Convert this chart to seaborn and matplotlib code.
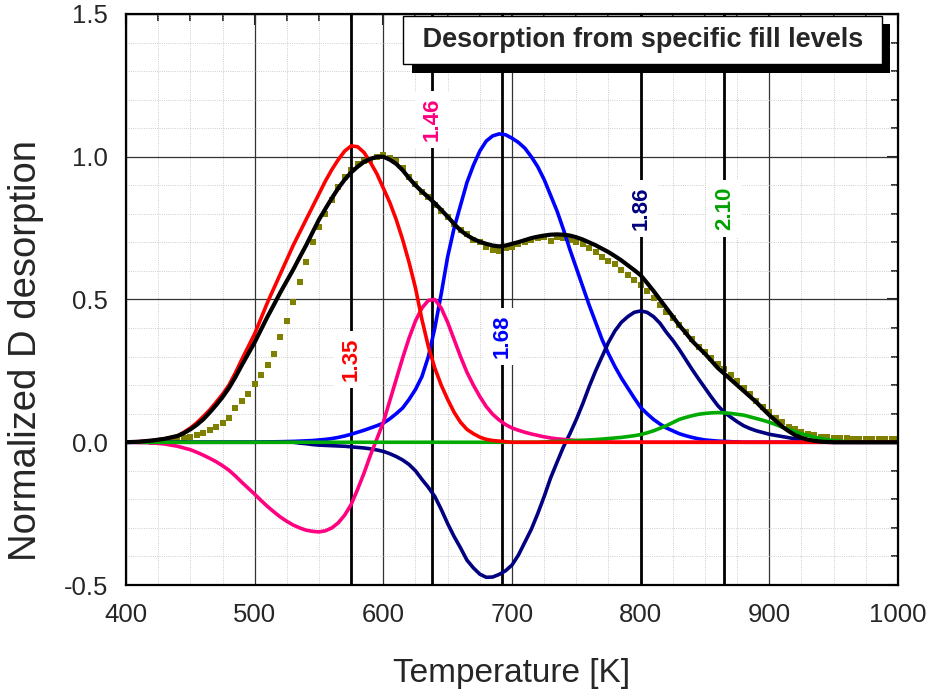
import pandas as pd
import seaborn as sns
from matplotlib import pyplot as plt
from matplotlib import patheffects
from matplotlib.ticker import MultipleLocator, FormatStrFormatter, NullFormatter

# fitted components, each on its own temperature grid [K]
red_t = list(range(400, 701, 5)) + [1000]
red = [0.0, 0.001, 0.002, 0.004, 0.006, 0.009, 0.012, 0.017, 0.022, 0.035,
       0.05, 0.068, 0.09, 0.113, 0.14, 0.168, 0.20, 0.243, 0.29, 0.335,
       0.38, 0.435, 0.49, 0.54, 0.59, 0.64, 0.69, 0.735, 0.78, 0.825,
       0.87, 0.915, 0.955, 0.99, 1.02, 1.038, 1.035, 1.015, 0.98, 0.94,
       0.89, 0.84, 0.78, 0.71, 0.63, 0.54, 0.43, 0.335, 0.26, 0.20,
       0.15, 0.105, 0.07, 0.045, 0.03, 0.018, 0.01, 0.006, 0.004, 0.002,
       0.0, 0.0]

pink_t = list(range(400, 781, 5)) + [1000]
pink = [0, 0, -0.001, -0.001, -0.002, -0.004, -0.006, -0.01, -0.014, -0.02,
        -0.026, -0.035, -0.045, -0.056, -0.068, -0.082, -0.098, -0.118, -0.14, -0.161,
        -0.182, -0.204, -0.225, -0.244, -0.262, -0.277, -0.29, -0.30, -0.308, -0.312,
        -0.314, -0.31, -0.30, -0.282, -0.255, -0.218, -0.165, -0.108, -0.045, 0.012,
        0.07, 0.145, 0.22, 0.295, 0.365, 0.425, 0.47, 0.497, 0.50, 0.47,
        0.42, 0.36, 0.30, 0.245, 0.20, 0.16, 0.125, 0.098, 0.078, 0.062,
        0.05, 0.042, 0.035, 0.029, 0.024, 0.019, 0.015, 0.012, 0.01, 0.008,
        0.006, 0.005, 0.004, 0.003, 0.002, 0.001, 0, 0]

blue_t = [400] + list(range(500, 881, 5)) + [1000]
blue = [0,
        0, 0.0005, 0.001, 0.0015, 0.002, 0.0025, 0.003, 0.004, 0.005, 0.006,
        0.008, 0.01, 0.013, 0.017, 0.022, 0.028, 0.035, 0.042, 0.05, 0.058,
        0.067, 0.082, 0.10, 0.12, 0.15, 0.185, 0.23, 0.30, 0.40, 0.52,
        0.65, 0.75, 0.83, 0.91, 0.97, 1.02, 1.055, 1.073, 1.08, 1.077,
        1.065, 1.05, 1.03, 1.0, 0.965, 0.92, 0.865, 0.81, 0.745, 0.675,
        0.61, 0.545, 0.48, 0.42, 0.36, 0.31, 0.265, 0.225, 0.19, 0.155,
        0.122, 0.10, 0.08, 0.064, 0.05, 0.04, 0.03, 0.023, 0.017, 0.012,
        0.008, 0.006, 0.004, 0.003, 0.002, 0.001, 0,
        0]

navy_t = [400] + list(range(530, 951, 5)) + [1000]
navy = [0,
        0, -0.003, -0.005, -0.008, -0.01, -0.011, -0.012, -0.013, -0.014, -0.016,
        -0.018, -0.02, -0.023, -0.027, -0.032, -0.04, -0.05, -0.062, -0.078, -0.10,
        -0.13, -0.158, -0.19, -0.235, -0.285, -0.33, -0.37, -0.413, -0.44, -0.462,
        -0.473, -0.472, -0.463, -0.45, -0.43, -0.395, -0.35, -0.305, -0.25, -0.19,
        -0.125, -0.07, -0.016, 0.03, 0.08, 0.135, 0.195, 0.25, 0.30, 0.35,
        0.39, 0.42, 0.44, 0.455, 0.46, 0.455, 0.44, 0.417, 0.385, 0.357,
        0.325, 0.29, 0.255, 0.222, 0.19, 0.158, 0.128, 0.105, 0.088, 0.072,
        0.058, 0.048, 0.04, 0.034, 0.028, 0.024, 0.02, 0.016, 0.012, 0.009,
        0.006, 0.004, 0.003, 0.001, 0,
        0]

green_t = [400] + list(range(720, 966, 5)) + [1000]
green = [0,
         0, 0.001, 0.002, 0.003, 0.004, 0.005, 0.006, 0.007, 0.008, 0.0095,
         0.011, 0.013, 0.015, 0.017, 0.02, 0.023, 0.027, 0.033, 0.04, 0.049,
         0.058, 0.069, 0.08, 0.087, 0.093, 0.098, 0.101, 0.103, 0.104, 0.103,
         0.101, 0.098, 0.095, 0.089, 0.083, 0.077, 0.07, 0.062, 0.053, 0.045,
         0.037, 0.03, 0.024, 0.018, 0.013, 0.009, 0.006, 0.004, 0.002, 0,
         0]

total_t = list(range(400, 951, 5)) + [1000]
total = [0.0, 0.001, 0.002, 0.004, 0.006, 0.009, 0.012, 0.017, 0.022, 0.032,
         0.045, 0.061, 0.08, 0.104, 0.13, 0.158, 0.19, 0.228, 0.27, 0.31,
         0.35, 0.395, 0.44, 0.482, 0.525, 0.565, 0.605, 0.648, 0.69, 0.735,
         0.78, 0.818, 0.855, 0.89, 0.92, 0.945, 0.965, 0.982, 0.993, 0.999,
         1.0, 0.99, 0.975, 0.953, 0.925, 0.90, 0.878, 0.858, 0.837, 0.814,
         0.79, 0.765, 0.742, 0.725, 0.712, 0.702, 0.695, 0.689, 0.686, 0.689,
         0.695, 0.701, 0.708, 0.715, 0.72, 0.724, 0.727, 0.728, 0.727, 0.724,
         0.718, 0.71, 0.70, 0.69, 0.678, 0.666, 0.652, 0.637, 0.62, 0.603,
         0.585, 0.558, 0.53, 0.50, 0.47, 0.44, 0.41, 0.383, 0.355, 0.332,
         0.31, 0.285, 0.26, 0.24, 0.22, 0.20, 0.18, 0.16, 0.14, 0.117,
         0.095, 0.075, 0.055, 0.039, 0.025, 0.016, 0.009, 0.005, 0.002, 0.001,
         0, 0]

# measured spectrum
meas_t = list(range(420, 1001, 5))
meas = [0.002, 0.004, 0.006, 0.009, 0.012, 0.016, 0.02, 0.026, 0.034, 0.043,
        0.055, 0.068, 0.085, 0.12, 0.143, 0.17, 0.205, 0.235, 0.27, 0.31,
        0.37, 0.425, 0.49, 0.56, 0.63, 0.70, 0.755, 0.80, 0.85, 0.895,
        0.93, 0.955, 0.975, 0.985, 0.99, 1.0, 1.005, 0.995, 0.985, 0.96,
        0.93, 0.905, 0.875, 0.86, 0.83, 0.81, 0.79, 0.765, 0.745, 0.73,
        0.71, 0.70, 0.685, 0.675, 0.67, 0.68, 0.685, 0.695, 0.70, 0.71,
        0.715, 0.72, 0.705, 0.72, 0.715, 0.71, 0.70, 0.695, 0.68, 0.665,
        0.65, 0.635, 0.625, 0.605, 0.585, 0.57, 0.55, 0.53, 0.505, 0.48,
        0.455, 0.435, 0.41, 0.385, 0.36, 0.335, 0.315, 0.295, 0.275, 0.255,
        0.235, 0.215, 0.19, 0.17, 0.145, 0.125, 0.105, 0.085, 0.07, 0.055,
        0.045, 0.035, 0.03, 0.025, 0.02, 0.018, 0.016, 0.015, 0.014, 0.013,
        0.012, 0.012, 0.011, 0.011, 0.010, 0.010, 0.010]

# fill level markers
level_t = [575, 638, 692, 800, 865]
level_txt = ['1.35', '1.46', '1.68', '1.86', '2.10']
level_y = [0.29, 1.13, 0.37, 0.82, 0.82]
level_col = ['#ff0000', '#ff0080', '#0000ff', '#000080', '#00a000']

sns.set_style('white')
plt.rcParams['font.family'] = ['Liberation Sans', 'DejaVu Sans']
plt.rcParams['axes.unicode_minus'] = False

parts = [('blue', blue_t, blue), ('navy', navy_t, navy), ('pink', pink_t, pink),
         ('green', green_t, green), ('red', red_t, red)]
df = pd.concat([pd.DataFrame({'T': t, 'D': v, 'curve': n}) for n, t, v in parts],
               ignore_index=True)
df_tot = pd.DataFrame({'T': total_t, 'D': total})
df_meas = pd.DataFrame({'T': meas_t, 'D': meas})
pal = {'red': '#ff0000', 'pink': '#ff0080', 'blue': '#0000ff',
       'navy': '#000080', 'green': '#00aa00'}

fig = plt.figure(figsize=(9.32, 6.92), dpi=100)
ax = fig.add_axes([0.1352, 0.1546, 0.8283, 0.8252])

sns.scatterplot(data=df_meas, x='T', y='D', color='#808000', marker='s',
                s=14, linewidth=0, ax=ax, zorder=2)
sns.lineplot(data=df, x='T', y='D', hue='curve', hue_order=[p[0] for p in parts],
             palette=pal, lw=2.6, legend=False, estimator=None, sort=False,
             ax=ax, zorder=3)
sns.lineplot(data=df_tot, x='T', y='D', color='black', lw=3.0,
             estimator=None, sort=False, ax=ax, zorder=4)

for t, s, y, c in zip(level_t, level_txt, level_y, level_col):
    ax.axvline(t, color='black', lw=2, zorder=2.5)
    ax.text(t, y, s, rotation=90, ha='center', va='center', color=c,
            fontsize=16, fontweight='bold', zorder=5,
            bbox=dict(fc='white', ec='none', pad=5))

ax.set_xlim(400, 1000)
ax.set_ylim(-0.5, 1.5)
ax.xaxis.set_major_locator(MultipleLocator(100))
ax.xaxis.set_minor_locator(MultipleLocator(25))
ax.yaxis.set_major_locator(MultipleLocator(0.5))
ax.yaxis.set_minor_locator(MultipleLocator(0.1))
ax.xaxis.set_major_formatter(FormatStrFormatter('%d'))
ax.yaxis.set_major_formatter(FormatStrFormatter('%.1f'))

ax.grid(which='major', color='#333333', lw=0.9, zorder=0)
ax.grid(which='minor', color='#bdbdbd', lw=0.6, ls=':', zorder=0)
ax.set_axisbelow(True)

ax.tick_params(which='major', direction='out', length=9, width=1.5,
               labelsize=18.5, pad=4)
ax.tick_params(which='minor', direction='out', length=5, width=1.3)
for sp in ax.spines.values():
    sp.set_linewidth(1.6)
    sp.set_color('black')

secx = ax.secondary_xaxis('top')
secx.xaxis.set_major_locator(MultipleLocator(100))
secx.xaxis.set_minor_locator(MultipleLocator(25))
secx.xaxis.set_major_formatter(NullFormatter())
secx.tick_params(which='major', direction='in', length=8, width=1.5)
secx.tick_params(which='minor', direction='in', length=5, width=1.3)
secy = ax.secondary_yaxis('right')
secy.yaxis.set_major_locator(MultipleLocator(0.5))
secy.yaxis.set_minor_locator(MultipleLocator(0.1))
secy.yaxis.set_major_formatter(NullFormatter())
secy.tick_params(which='major', direction='in', length=8, width=1.5)
secy.tick_params(which='minor', direction='in', length=5, width=1.3)

ax.set_xlabel('Temperature [K]', fontsize=24)
ax.xaxis.set_label_coords(0.4994, -0.128)
ax.set_ylabel('Normalized D desorption', fontsize=27.5)
ax.yaxis.set_label_coords(-0.106, 0.41)

title = ax.text(0.9645, 0.977, ' Desorption from specific fill levels ',
                transform=ax.transAxes, ha='right', va='top', fontsize=19.5,
                fontweight='bold', zorder=10,
                bbox=dict(boxstyle='square,pad=0.42', fc='white', ec='black', lw=1))
title.get_bbox_patch().set_path_effects(
    [patheffects.withSimplePatchShadow(offset=(6, -6), shadow_rgbFace='black', alpha=1.0)])

plt.savefig('out.png', dpi=100)
